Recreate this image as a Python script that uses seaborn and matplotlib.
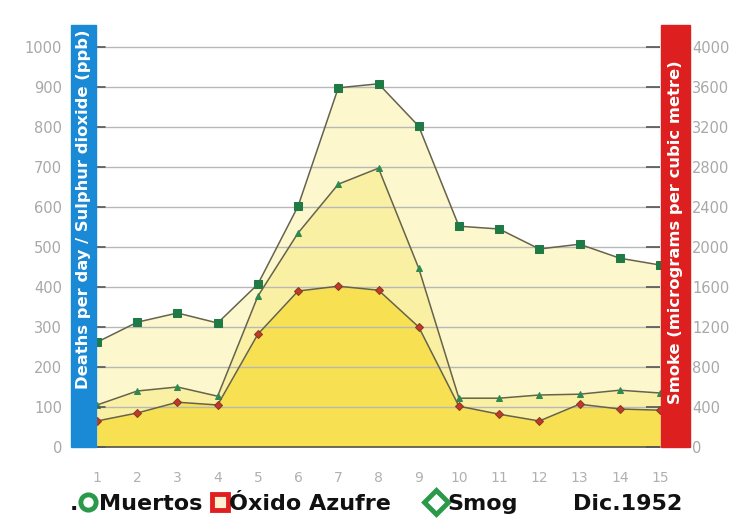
import numpy as np
import pandas as pd
import matplotlib
matplotlib.use("Agg")
import matplotlib.pyplot as plt
import seaborn as sns
from matplotlib.patches import Rectangle

sns.set_theme(style="white")
plt.rcParams['font.family'] = ['DejaVu Sans']

days = list(range(1, 16))
muertos = [262, 312, 335, 310, 407, 602, 898, 908, 802, 552, 545, 495, 507, 472, 455]
smog = [105, 140, 150, 127, 377, 535, 657, 697, 447, 122, 122, 130, 132, 142, 135]
oxido = [65, 85, 112, 105, 282, 390, 402, 392, 300, 102, 82, 65, 107, 95, 92]
left_ticks = [0, 100, 200, 300, 400, 500, 600, 700, 800, 900, 1000]
right_ticks = [0, 400, 800, 1200, 1600, 2000, 2400, 2800, 3200, 3600, 4000]

df = pd.DataFrame({"day": days, "muertos": muertos, "smog": smog, "oxido": oxido})

W, H = 736, 519
PT = 72 / 100  # points per pixel
fig = plt.figure(figsize=(W / 100, H / 100), dpi=100)
ax = fig.add_axes([97 / W, 1 - 447 / H, (660 - 97) / W, (447 - 25) / H])

line_c = "#66634a"
ax.fill_between(df["day"], 0, df["muertos"], color="#fcf7cc", zorder=1, lw=0)
ax.fill_between(df["day"], 0, df["smog"], color="#faf0a4", zorder=1.1, lw=0)
ax.fill_between(df["day"], 0, df["oxido"], color="#f7e152", zorder=1.2, lw=0)

sns.lineplot(data=df, x="day", y="muertos", ax=ax, color=line_c, lw=1.1,
             marker="s", markersize=5.5, markerfacecolor="#1f7a45",
             markeredgecolor="#1f7a45", zorder=3)
sns.lineplot(data=df, x="day", y="smog", ax=ax, color=line_c, lw=1.1,
             marker="^", markersize=4, markerfacecolor="#2e8a50",
             markeredgecolor="#2e8a50", zorder=3)
sns.lineplot(data=df, x="day", y="oxido", ax=ax, color=line_c, lw=1.1,
             marker="D", markersize=4.5, markerfacecolor="#c0392b",
             markeredgecolor="#8a3a20", zorder=3)

ymax = 1055
ax.set_xlim(1, 15)
ax.set_ylim(0, ymax)
ax.set_xticks(days)
ax.set_xticklabels([str(d) for d in days])
ax.set_yticks(left_ticks)
ax.set_yticklabels([str(v) for v in left_ticks])
ax.set_xlabel("")
ax.set_ylabel("")
ax.grid(axis="y", color="#b8b8b8", lw=1.0, zorder=2.5)
ax.set_axisbelow(False)
for s in ax.spines.values():
    s.set_visible(False)
ax.tick_params(axis="x", direction="out", length=8 * PT, width=1, color="#555555",
               labelsize=10, labelcolor="#b0b0b0", pad=16 * PT)
ax.tick_params(axis="y", direction="in", length=0, labelsize=10.5,
               labelcolor="#a8a8a8", pad=35 * PT)

ax2 = ax.twinx()
ax2.set_ylim(0, ymax * 4)
ax2.set_yticks(right_ticks)
ax2.set_yticklabels([str(v) for v in right_ticks])
for s in ax2.spines.values():
    s.set_visible(False)
ax2.tick_params(axis="y", direction="in", length=14 * PT, width=1.2, color="#555555",
                labelsize=10.5, labelcolor="#a8a8a8", pad=32 * PT)
ax2.grid(False)

# left inner tick marks
for v in left_ticks:
    ax.plot([1, 1.2], [v, v], color="#555555", lw=1.2, zorder=4, clip_on=False)
ax.plot([1, 15], [0, 0], color="#555555", lw=1.2, zorder=4, clip_on=False)

# colored side bars
fig.add_artist(Rectangle((71 / W, 1 - 447 / H), 25 / W, 422 / H,
                         transform=fig.transFigure, color="#1b8ad6", zorder=5))
fig.add_artist(Rectangle((661 / W, 1 - 447 / H), 29 / W, 422 / H,
                         transform=fig.transFigure, color="#dd1f1f", zorder=5))
fig.text(84 / W, 1 - 209 / H, "Deaths per day / Sulphur dioxide (ppb)",
         rotation=90, color="white", fontsize=11.8, fontweight="bold",
         ha="center", va="center", zorder=6)
fig.text(675.5 / W, 1 - 232 / H, "Smoke (micrograms per cubic metre)",
         rotation=90, color="white", fontsize=11.8, fontweight="bold",
         ha="center", va="center", zorder=6)

# legend row
base = 1 - 510 / H
fig.text(70 / W, base, ".", fontsize=16, fontweight="bold", color="#111111", va="baseline")
fig.text(99 / W, base, "Muertos", fontsize=16, fontweight="bold", color="#111111", va="baseline")
fig.text(229 / W, base, "Óxido Azufre", fontsize=16, fontweight="bold", color="#111111", va="baseline")
fig.text(447 / W, base, "Smog", fontsize=16, fontweight="bold", color="#111111", va="baseline")
fig.text(573 / W, base, "Dic.1952", fontsize=16, fontweight="bold", color="#111111", va="baseline")
ly = 1 - 502 / H
fig.add_artist(plt.Line2D([88 / W], [ly], marker="o", markersize=11, markerfacecolor="white",
                          markeredgecolor="#2a9a4a", markeredgewidth=3.5,
                          transform=fig.transFigure))
fig.add_artist(plt.Line2D([220 / W], [ly], marker="s", markersize=12, markerfacecolor="#fff0d0",
                          markeredgecolor="#e02020", markeredgewidth=3.5,
                          transform=fig.transFigure))
fig.add_artist(plt.Line2D([436 / W], [ly], marker="D", markersize=12, markerfacecolor="white",
                          markeredgecolor="#2a9a4a", markeredgewidth=3.5,
                          transform=fig.transFigure))

fig.savefig("out.png", dpi=100)
